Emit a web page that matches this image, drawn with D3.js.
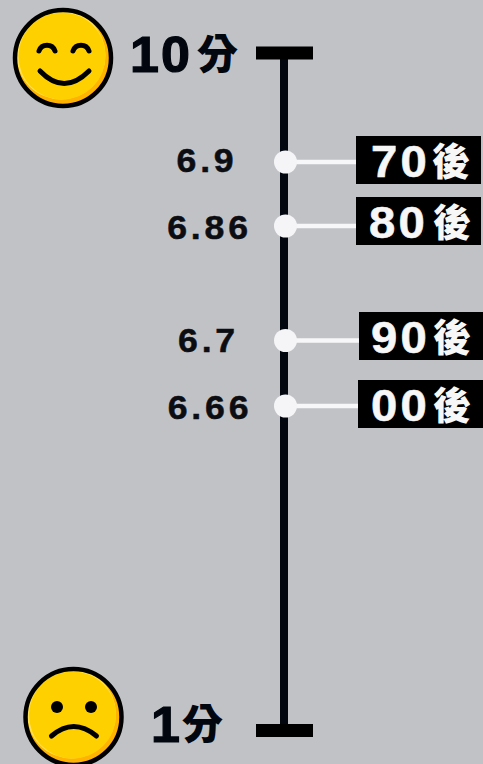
<!DOCTYPE html>
<html>
<head>
<meta charset="utf-8">
<script src="https://cdn.jsdelivr.net/npm/d3@7"></script>
<style>
  html, body { margin: 0; padding: 0; background: #c1c2c6; }
  svg { display: block; }
  text { font-family: "Liberation Sans", "Noto Sans CJK TC", sans-serif; font-weight: 700; }
  .cjk { font-family: "Noto Sans CJK TC", sans-serif; font-weight: 900; }
</style>
</head>
<body>
<div id="chart"></div>
<script>
// Data
const generations = ["70", "80", "90", "00"]
const generationSuffix = "後"
const scores = [6.9, 6.86, 6.7, 6.66]
const scoreLabels = ["6.9", "6.86", "6.7", "6.66"]
const scaleEnds = [10, 1]
const endLabels = ["10", "1"]
const endSuffix = "分"

const width = 483
const height = 764
const axisX = 284
const dotX = 285.5
const ink = "#02060f"

const svg = d3.select("#chart").append("svg").attr("width", width).attr("height", height)

// The original spaces the scores by hand, so the scale is piecewise
const y = d3.scaleLinear()
  .domain([10, 6.9, 6.86, 6.7, 6.66, 1])
  .range([53, 162, 226, 340.5, 406, 730.5])

// Axis line and end caps
svg.append("line")
  .attr("x1", axisX).attr("x2", axisX)
  .attr("y1", y(10)).attr("y2", y(1))
  .attr("stroke", ink).attr("stroke-width", 8)

svg.selectAll(".cap").data(scaleEnds).enter().append("rect")
  .attr("class", "cap")
  .attr("x", 256).attr("width", 57)
  .attr("y", (d) => y(d) - 6.5).attr("height", 13)
  .attr("fill", "#000")

// End labels, the digits in the original are stretched wide
const endX = [130, 151]
const endSuffixX = [197, 182]
const endY = [72, 742]
svg.selectAll(".end").data(endLabels).enter().append("text")
  .attr("class", "end")
  .attr("transform", (d, i) => `translate(${endX[i]},${endY[i]}) scale(1.04,1)`)
  .attr("font-size", 50)
  .attr("letter-spacing", 2)
  .attr("fill", ink).attr("stroke", ink).attr("stroke-width", 1.2)
  .text((d) => d)

svg.selectAll(".end-suffix").data(endLabels).enter().append("text")
  .attr("class", "end-suffix cjk")
  .attr("x", (d, i) => endSuffixX[i]).attr("y", (d, i) => endY[i] - 3)
  .attr("font-size", 41)
  .attr("fill", ink)
  .text(endSuffix)

// Connectors, boxes and dots
const boxX = [356, 356, 359, 358]
const boxTop = [136, 197, 312, 380]
const labelX = [371, 369, 371, 371]
const suffixX = [432, 433, 433, 433]
const row = svg.selectAll(".row").data(scores).enter().append("g").attr("class", "row")

row.append("line")
  .attr("x1", dotX).attr("x2", (d, i) => boxX[i])
  .attr("y1", (d) => y(d)).attr("y2", (d) => y(d))
  .attr("stroke", "#f7f7f9").attr("stroke-width", 4.5)

row.append("circle")
  .attr("cx", dotX).attr("cy", (d) => y(d)).attr("r", 11.5)
  .attr("fill", "#f5f5f8")

row.append("rect")
  .attr("x", (d, i) => boxX[i]).attr("width", 125)
  .attr("y", (d, i) => boxTop[i]).attr("height", 48)
  .attr("fill", "#000")

row.append("text")
  .attr("transform", (d, i) => `translate(${labelX[i]},${boxTop[i] + 41}) scale(1.05,1)`)
  .attr("font-size", 45)
  .attr("letter-spacing", 3)
  .attr("fill", "#f7f7f7").attr("stroke", "#f7f7f7").attr("stroke-width", 0.6)
  .text((d, i) => generations[i])

row.append("text")
  .attr("class", "cjk")
  .attr("x", (d, i) => suffixX[i]).attr("y", (d, i) => boxTop[i] + 39)
  .attr("font-size", 38)
  .attr("fill", "#f7f7f7")
  .text(generationSuffix)

const scoreX = [207, 209.5, 208.5, 210]
const scoreY = [172, 239, 352, 419]
row.append("text")
  .attr("transform", (d, i) => `translate(${scoreX[i]},${scoreY[i]}) scale(1.08,1)`)
  .attr("text-anchor", "middle")
  .attr("font-size", 33)
  .attr("letter-spacing", 3.5)
  .attr("fill", "#0b0d12").attr("stroke", "#0b0d12").attr("stroke-width", 0.5)
  .text((d, i) => scoreLabels[i])

// Faces
const defs = svg.append("defs")
defs.append("clipPath").attr("id", "face-clip").append("circle").attr("r", 48)

function drawFace(cx, cy) {
  const g = svg.append("g").attr("transform", `translate(${cx},${cy})`)
  const skin = g.append("g").attr("clip-path", "url(#face-clip)")
  skin.append("circle").attr("r", 48).attr("fill", "#ffb300")
  skin.append("circle").attr("cx", -2).attr("cy", -3).attr("r", 44.5).attr("fill", "#ffe355")
  skin.append("circle").attr("cx", -1).attr("cy", -2).attr("r", 43.5).attr("fill", "#ffd000")
  g.append("circle").attr("r", 48).attr("fill", "none").attr("stroke", "#000").attr("stroke-width", 4.5)
  return g
}

const stroke = (sel) => sel.attr("fill", "none").attr("stroke", "#000").attr("stroke-width", 5).attr("stroke-linecap", "round")

const happy = drawFace(63, 58)
happy.append("path").attr("d", "M-24,-7 A8.5,8.5 0 0 1 -8,-7").call(stroke)
happy.append("path").attr("d", "M10,-7 A8.5,8.5 0 0 1 26,-7").call(stroke)
happy.append("path").attr("d", "M-23,13 Q1,38 26,13").call(stroke)

const sad = drawFace(73.5, 717)
sad.append("circle").attr("cx", -16.5).attr("cy", -10).attr("r", 6).attr("fill", "#000")
sad.append("circle").attr("cx", 17.5).attr("cy", -10).attr("r", 6).attr("fill", "#000")
sad.append("path").attr("d", "M-22,19 Q0,0 23,19").call(stroke)
</script>
</body>
</html>
